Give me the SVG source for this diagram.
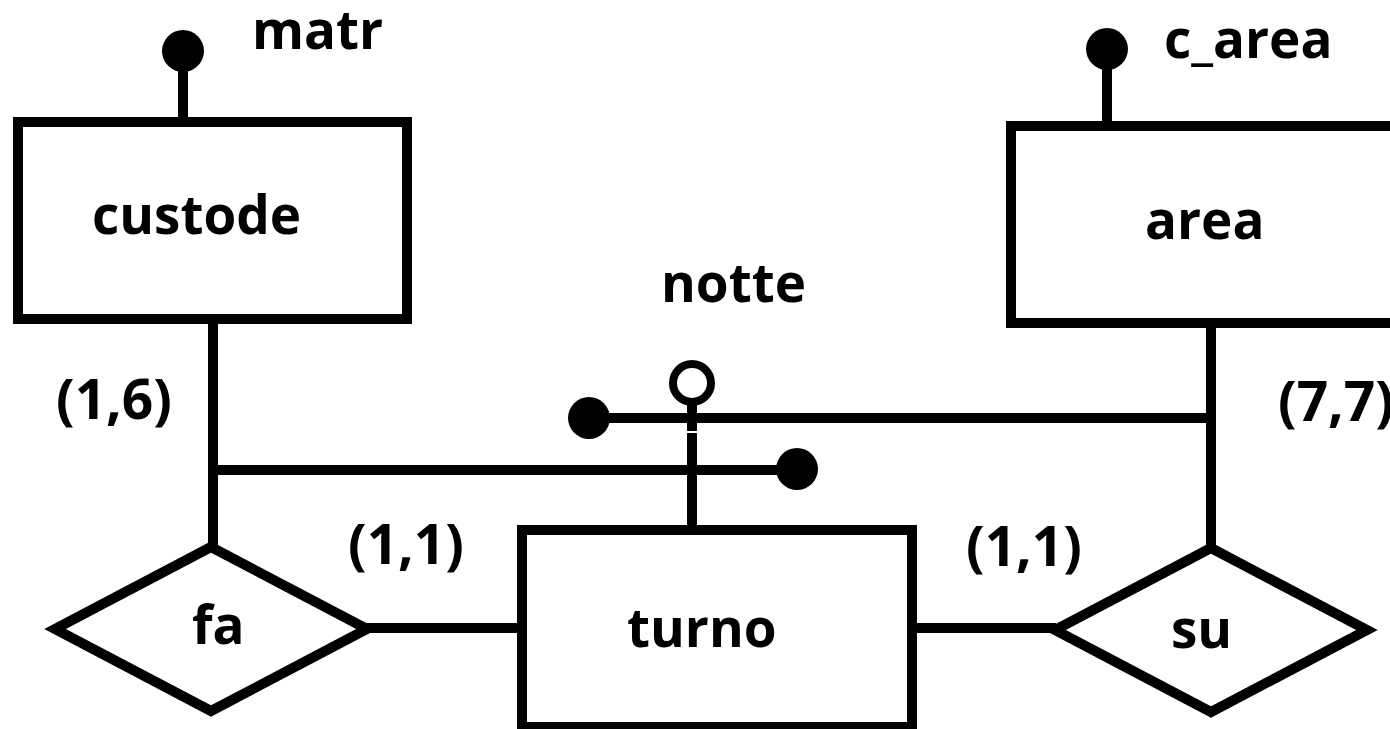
<svg xmlns="http://www.w3.org/2000/svg" width="1390" height="729" viewBox="0 0 1390 729">
<style>
.box{fill:#fff;stroke:#000;stroke-width:10}
.rel{fill:#fff;stroke:#000;stroke-width:10;stroke-linejoin:miter}
.ln{stroke:#000;stroke-width:10;fill:none}
.dot{fill:#000}
.hol{fill:#fff;stroke:#000;stroke-width:8}
text{font-family:"Open Sans","Liberation Sans",sans-serif;font-weight:bold;font-size:53px;fill:#000}
.card{font-size:55px}
</style>
<rect width="1390" height="729" fill="#fff"/>
<g id="connectors">
<line class="ln" x1="183" y1="51" x2="183" y2="122"/>
<line class="ln" x1="1107" y1="49" x2="1107" y2="126"/>
<line class="ln" x1="213" y1="319" x2="213" y2="548"/>
<line class="ln" x1="213" y1="470" x2="797" y2="470"/>
<line class="ln" x1="589" y1="418" x2="1211" y2="418"/>
<line class="ln" x1="1211" y1="323" x2="1211" y2="548"/>
<line class="ln" x1="692" y1="400" x2="692" y2="431"/>
<line class="ln" x1="692" y1="433" x2="692" y2="530"/>
<line class="ln" x1="364" y1="628" x2="522" y2="628"/>
<line class="ln" x1="912" y1="628" x2="1056" y2="628"/>
<circle class="dot" cx="183" cy="51" r="21"/>
<circle class="dot" cx="1107" cy="49" r="21"/>
<circle class="dot" cx="589" cy="418" r="21"/>
<circle class="dot" cx="797" cy="469" r="21"/>
<circle class="hol" cx="692" cy="383" r="19"/>
</g>
<g id="custode">
<rect class="box" x="18" y="122" width="389" height="197"/>
<text x="92" y="234">custode</text>
</g>
<g id="area">
<rect class="box" x="1011" y="126" width="420" height="197"/>
<text x="1145" y="239">area</text>
</g>
<g id="turno">
<rect class="box" x="522" y="530" width="390" height="197"/>
<text x="627" y="647">turno</text>
</g>
<g id="fa">
<polygon class="rel" points="211,547 367,629 211,711 55,629"/>
<text x="192" y="644">fa</text>
</g>
<g id="su">
<polygon class="rel" points="1211,548 1367,630 1211,712 1055,630"/>
<text x="1171" y="648">su</text>
</g>
<g id="labels">
<text x="252" y="49">matr</text>
<text x="1164" y="58">c_area</text>
<text x="661" y="302">notte</text>
<text class="card" x="56" y="419">(1,6)</text>
<text class="card" x="1278" y="421">(7,7)</text>
<text class="card" x="348" y="564">(1,1)</text>
<text class="card" x="966" y="566">(1,1)</text>
</g>
</svg>
